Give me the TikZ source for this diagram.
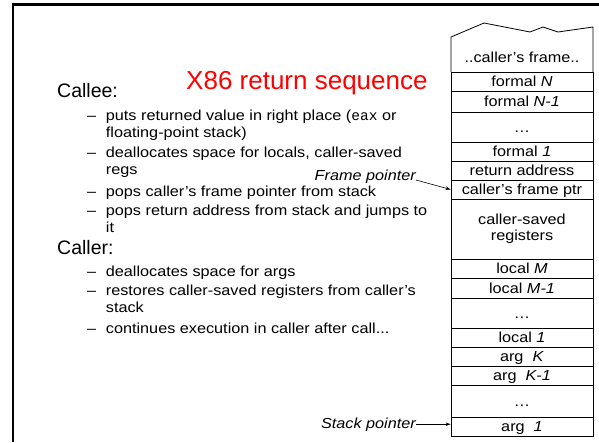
\documentclass[tikz,border=0pt]{standalone}
\usepackage{fontspec}
\setmainfont{Liberation Sans}
\newfontfamily\bodyf{Liberation Sans}[FakeStretch=1.12]
\newfontfamily\monof{Liberation Mono}
\usetikzlibrary{arrows.meta}
\definecolor{titlered}{RGB}{255,0,0}
\tikzset{
  body/.style={font=\bodyf\fontsize{14.5}{17}\selectfont, inner sep=0pt, anchor=base west},
  head/.style={font=\fontsize{19.5}{22}\selectfont, inner sep=0pt, anchor=base west},
  cell/.style={draw, line width=0.8pt, fill=white, minimum width=142pt, inner sep=0pt,
    text height=12pt, text depth=2pt, font=\bodyf\fontsize{14.5}{17}\selectfont},
  ptr/.style={font=\bodyf\itshape\fontsize{14.5}{17}\selectfont, inner sep=0pt},
  arr/.style={-{Stealth[length=5pt,width=3.5pt]}, line width=0.6pt}
}
\begin{document}
\begin{tikzpicture}[x=1pt,y=-1pt]
\useasboundingbox (0,0) rectangle (599,442);
% slide frame
\draw[line width=2.5pt] (13,442) -- (13,4.5) -- (599,4.5);
% title
\node[font=\fontsize{26}{30}\selectfont, text=titlered, inner sep=0pt, anchor=base west] (title) at (186,89) {X86 return sequence};
% Callee
\node[head] (callee) at (57,97) {Callee:};
\node[body] (d1) at (87,120) {–};
\node[body] (b1) at (105.7,120) {puts returned value in right place ({\monof eax} or};
\node[body] (b2) at (105.7,137) {floating-point stack)};
\node[body] (d2) at (87,157.5) {–};
\node[body] (b3) at (105.7,157.5) {deallocates space for locals, caller-saved};
\node[body] (b4) at (105.7,174.5) {regs};
\node[body] (d3) at (87,196) {–};
\node[body] (b5) at (105.7,196) {pops caller’s frame pointer from stack};
\node[body] (d4) at (87,215) {–};
\node[body] (b6) at (105.7,215) {pops return address from stack and jumps to};
\node[body] (b7) at (105.7,232) {it};
% Caller
\node[head] (caller) at (57,254) {Caller:};
\node[body] (d5) at (87,276) {–};
\node[body] (b8) at (105.7,276) {deallocates space for args};
\node[body] (d6) at (87,295.5) {–};
\node[body] (b9) at (105.7,295.5) {restores caller-saved registers from caller’s};
\node[body] (b10) at (105.7,312.5) {stack};
\node[body] (d7) at (87,333) {–};
\node[body] (b11) at (105.7,333) {continues execution in caller after call...};
% stack
\draw[line width=0.8pt, fill=white] (451,72) -- (451,37) -- (484,23) -- (530,32) -- (543,27) -- (558,32) -- (593,27) -- (593,72);
\node[font=\bodyf\fontsize{14.5}{17}\selectfont, inner sep=0pt, anchor=base] (cframe) at (522,62) {..caller’s frame..};
\node[cell, minimum height=19pt] (fN) at (522,81.5) {formal \textit{N}};
\node[cell, minimum height=21pt] (fN1) at (522,101.5) {formal \textit{N-1}};
\node[cell, minimum height=30pt] (dots1) at (522,127) {…};
\node[cell, minimum height=19pt] (f1) at (522,151.5) {formal \textit{1}};
\node[cell, minimum height=19pt] (ret) at (522,170.5) {return address};
\node[cell, minimum height=19pt] (cfp) at (522,189.5) {caller’s frame ptr};
\node[cell, minimum height=60pt, text height=, text depth=, align=center] (csr) at (522,229) {caller-saved\\[-1pt]registers};
\node[cell, minimum height=19pt] (lM) at (522,268.5) {local \textit{M}};
\node[cell, minimum height=20pt] (lM1) at (522,288) {local \textit{M-1}};
\node[cell, minimum height=30pt] (dots2) at (522,313) {…};
\node[cell, minimum height=19pt] (l1) at (522,337.5) {local \textit{1}};
\node[cell, minimum height=19pt] (aK) at (522,356.5) {arg\ \ \textit{K}};
\node[cell, minimum height=19pt] (aK1) at (522,375.5) {arg\ \ \textit{K-1}};
\node[cell, minimum height=32pt] (dots3) at (522,401) {…};
\node[cell, minimum height=19pt] (a1) at (522,426.5) {arg\ \ \textit{1}};
% pointers
\node[ptr, anchor=base east] (fp) at (416,180) {Frame pointer};
\draw[arr] (fp.base east) -- (cfp.west);
\node[ptr, anchor=base east] (sp) at (416,428) {Stack pointer};
\draw[arr] (sp.east) -- (sp.east -| a1.west);
\end{tikzpicture}
\end{document}
